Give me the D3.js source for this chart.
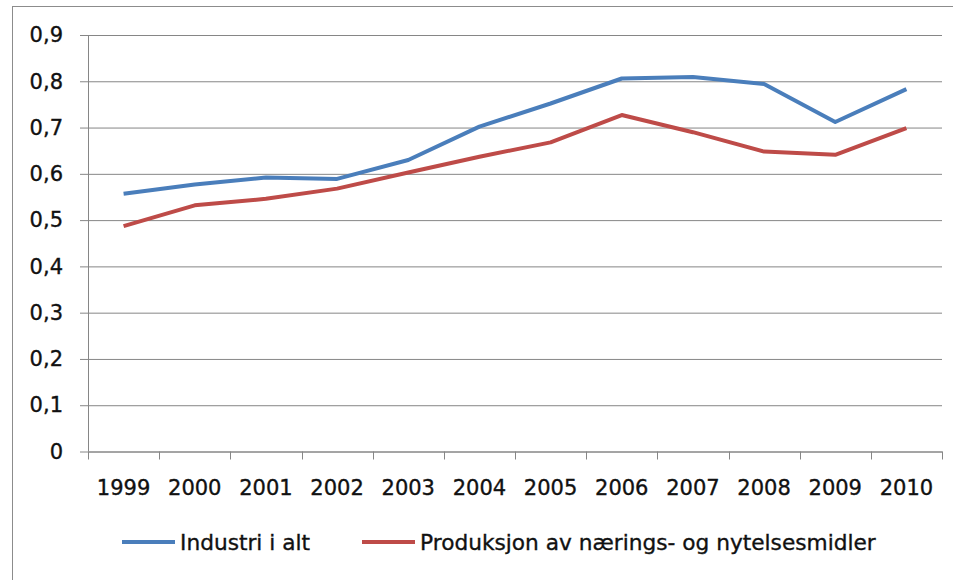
<!DOCTYPE html>
<html>
<head>
  <meta charset="UTF-8">
  <script src="https://d3js.org/d3.v7.min.js"></script>
  <style>
    body { margin: 0; background: #fff; }
    text { font-family: "DejaVu Sans", sans-serif; fill: #111; stroke: #111; stroke-width: 0.35px; }
  </style>
</head>
<body>
  <svg id="chart" width="953" height="580"></svg>
  <script>
    const years = ["1999","2000","2001","2002","2003","2004","2005","2006","2007","2008","2009","2010"];
    const industri = [0.557, 0.577, 0.592, 0.589, 0.630, 0.702, 0.752, 0.806, 0.809, 0.794, 0.712, 0.783];
    const produksjon = [0.487, 0.532, 0.546, 0.568, 0.603, 0.637, 0.668, 0.727, 0.690, 0.648, 0.641, 0.699];
    const yTicks = [0, 0.1, 0.2, 0.3, 0.4, 0.5, 0.6, 0.7, 0.8, 0.9];
    const seriesNames = ["Industri i alt", "Produksjon av nærings- og nytelsesmidler"];
    const colors = ["#4a7ebb", "#be4b48"];

    const svg = d3.select("#chart");
    const margin = { top: 35, left: 88, right: 942, bottom: 451.5 };

    // outer frame
    svg.append("rect")
      .attr("x", 12.5).attr("y", 6.5)
      .attr("width", 960).attr("height", 600)
      .attr("fill", "none").attr("stroke", "#8c8c8c");

    const x = d3.scaleBand().domain(years).range([margin.left, margin.right]);
    const y = d3.scaleLinear().domain([0, 0.9]).range([margin.bottom, margin.top]);

    // gridlines + y ticks
    const yAxis = svg.append("g")
      .attr("transform", "translate(" + margin.left + ",0)")
      .call(d3.axisLeft(y).tickValues(yTicks).tickSize(-(margin.right - margin.left)).tickSizeOuter(0)
        .tickFormat(d => d3.format(".1f")(d).replace(".", ",").replace(/^0,0$/, "0")));
    yAxis.select(".domain").remove();
    yAxis.selectAll(".tick line")
      .attr("x1", -8)
      .attr("stroke", "#868686");
    yAxis.selectAll(".tick text")
      .attr("x", -25)
      .attr("font-size", 21);

    // y axis line
    svg.append("line")
      .attr("x1", margin.left + 0.5).attr("x2", margin.left + 0.5)
      .attr("y1", margin.top).attr("y2", margin.bottom)
      .attr("stroke", "#868686");

    // x axis
    const xAxis = svg.append("g")
      .attr("transform", "translate(0," + margin.bottom + ")")
      .call(d3.axisBottom(x).tickSize(0));
    xAxis.select(".domain").attr("stroke", "#868686");
    xAxis.selectAll(".tick text")
      .attr("dy", 0)
      .attr("y", 43)
      .attr("font-size", 21);
    // tick marks between categories
    const bounds = years.map(d => x(d)).concat([margin.right]);
    svg.append("g").selectAll("line").data(bounds).join("line")
      .attr("x1", d => Math.round(d) + 0.5).attr("x2", d => Math.round(d) + 0.5)
      .attr("y1", margin.bottom).attr("y2", margin.bottom + 8)
      .attr("stroke", "#868686");

    const line = d3.line()
      .x((d, i) => x(years[i]) + x.bandwidth() / 2)
      .y(d => y(d));

    [industri, produksjon].forEach((s, i) => {
      svg.append("path")
        .datum(s)
        .attr("d", line)
        .attr("fill", "none")
        .attr("stroke", colors[i])
        .attr("stroke-width", 4)
        .attr("stroke-linejoin", "round");
    });

    // legend
    const legendX = [122, 362];
    const legend = svg.append("g");
    seriesNames.forEach((name, i) => {
      legend.append("line")
        .attr("x1", legendX[i]).attr("x2", legendX[i] + 53)
        .attr("y1", 542).attr("y2", 542)
        .attr("stroke", colors[i]).attr("stroke-width", 4);
      legend.append("text")
        .attr("x", legendX[i] + 58).attr("y", 542)
        .attr("dy", "0.35em")
        .attr("font-size", 21.7)
        .text(name);
    });
  </script>
</body>
</html>
